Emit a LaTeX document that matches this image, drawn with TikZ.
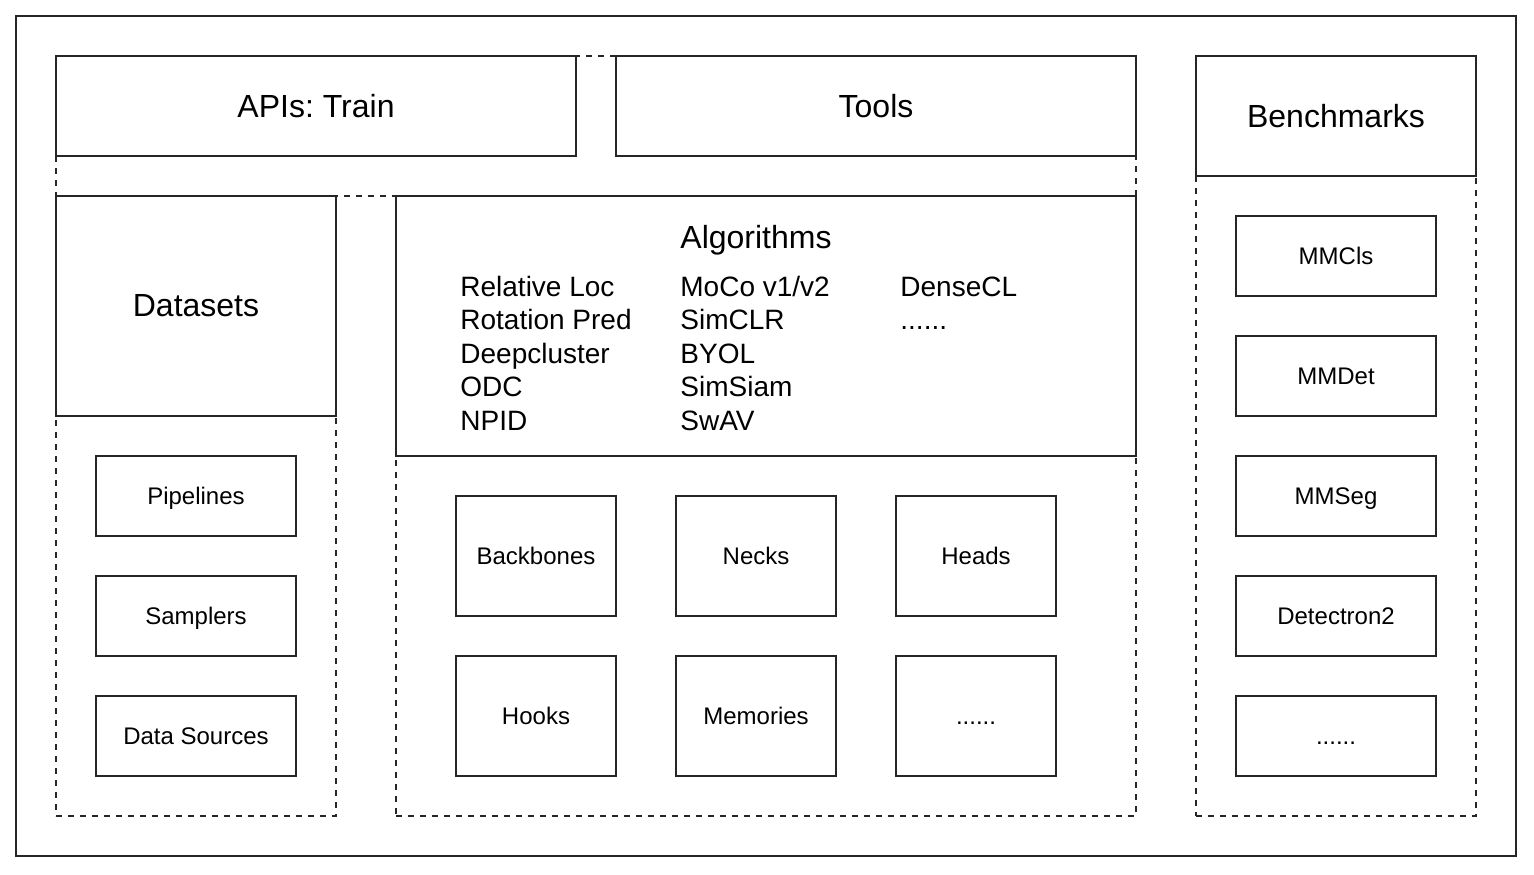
\documentclass[tikz,border=0pt]{standalone}
\usepackage{fontspec}
\setmainfont{Liberation Sans}
\frenchspacing
\begin{document}
\begin{tikzpicture}[x=0.5pt,y=-0.5pt,
  box/.style={draw=black!85,line width=1pt,inner sep=0pt,outer sep=0pt,fill=white},
  group/.style={draw=black!85,line width=1pt,dashed,dash pattern=on 3pt off 3pt,inner sep=0pt,outer sep=0pt},
  big/.style={font=\fontsize{16}{19.2}\selectfont},
  mid/.style={font=\fontsize{14}{16.75}\selectfont},
  small/.style={font=\fontsize{12}{14.4}\selectfont,text height=9.5pt,text depth=1pt},
  sbox/.style={box,small,minimum width=100pt,minimum height=40pt},
  qbox/.style={box,small,minimum width=80pt,minimum height=60pt}]
\useasboundingbox (0,0) rectangle (1534,874);
% outer frame
\node[draw=black!85,line width=1pt,inner sep=0pt,minimum width=750pt,minimum height=420pt] (frame) at (766,436) {};
% dashed groups
\node[group,minimum width=540pt,minimum height=70pt] (topgrp) at (596,126) {};
\node[group,minimum width=140pt,minimum height=310pt] (dsgrp) at (196,506) {};
\node[group,minimum width=370pt,minimum height=310pt] (alggrp) at (766,506) {};
\node[group,minimum width=140pt,minimum height=380pt] (bmgrp) at (1336,436) {};
% top boxes
\node[box,big,minimum width=260pt,minimum height=50pt] (apis) at (316,106) {APIs: Train};
\node[box,big,minimum width=260pt,minimum height=50pt] (tools) at (876,106) {Tools};
\node[box,big,minimum width=140pt,minimum height=60pt] (bench) at (1336,116) {Benchmarks};
% datasets
\node[box,big,minimum width=140pt,minimum height=110pt] (datasets) at (196,306) {Datasets};
\node[sbox] (pipelines) at (196,496) {Pipelines};
\node[sbox] (samplers) at (196,616) {Samplers};
\node[sbox] (datasrc) at (196,736) {Data Sources};
% algorithms
\node[box,minimum width=370pt,minimum height=130pt] (alg) at (766,326) {};
\node[big,inner sep=0pt] (algtitle) at (756,240) {Algorithms};
\node[mid,align=left,anchor=base west,inner sep=0pt] (col1) at (460,430) {Relative Loc\\Rotation Pred\\Deepcluster\\ODC\\NPID};
\node[mid,align=left,anchor=base west,inner sep=0pt] (col2) at (680,430) {MoCo v1/v2\\SimCLR\\BYOL\\SimSiam\\SwAV};
\node[mid,align=left,anchor=base west,inner sep=0pt] (col3) at (900,329.5) {DenseCL\\......};
\node[qbox] (backbones) at (536,556) {Backbones};
\node[qbox] (necks) at (756,556) {Necks};
\node[qbox] (heads) at (976,556) {Heads};
\node[qbox] (hooks) at (536,716) {Hooks};
\node[qbox] (memories) at (756,716) {Memories};
\node[qbox] (algmore) at (976,716) {......};
% benchmarks
\node[sbox] (mmcls) at (1336,256) {MMCls};
\node[sbox] (mmdet) at (1336,376) {MMDet};
\node[sbox] (mmseg) at (1336,496) {MMSeg};
\node[sbox] (detectron) at (1336,616) {Detectron2};
\node[sbox] (bmmore) at (1336,736) {......};
\end{tikzpicture}
\end{document}
